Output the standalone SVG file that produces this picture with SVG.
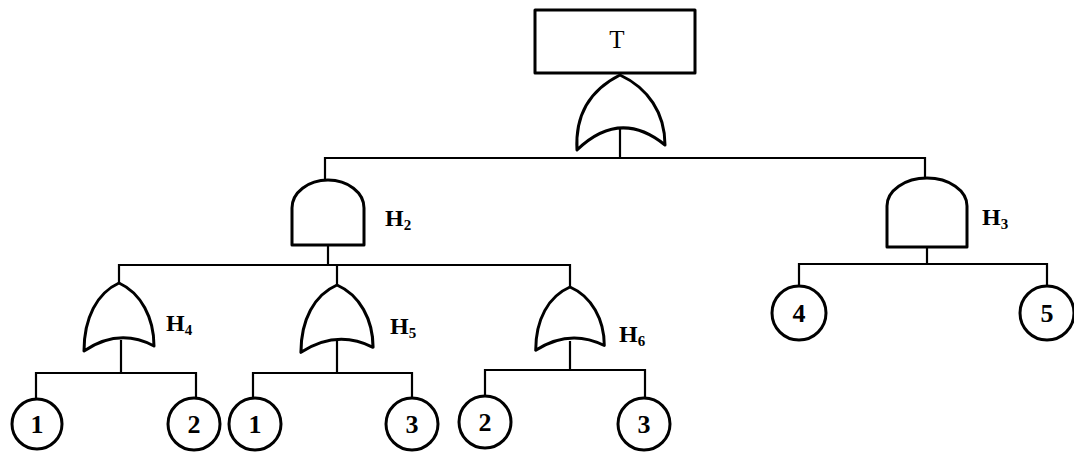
<svg xmlns="http://www.w3.org/2000/svg" xmlns:xlink="http://www.w3.org/1999/xlink" width="1074" height="455" viewBox="0 0 1074 455">
<style>
.gate{fill:#fff;stroke:#000;stroke-width:3;stroke-linejoin:round}
.ev{fill:#fff;stroke:#000;stroke-width:3}
.ln{fill:none;stroke:#000;stroke-width:2.2}
.lbl{font-family:"Liberation Serif","DejaVu Serif",serif;font-size:24px;font-weight:bold;fill:#000}
.sub{font-size:15px}
.num{font-family:"Liberation Serif","DejaVu Serif",serif;font-size:26px;font-weight:bold;fill:#000;text-anchor:middle}
.tt{font-family:"Liberation Serif","DejaVu Serif",serif;font-size:25px;fill:#000;text-anchor:middle}
</style>
<defs>
<path id="or" d="M0,0 C22,10 35,35 35,63 Q0,44.5 -35,68 C-35,35 -22,10 0,0 Z"/>
</defs>
<rect width="1074" height="455" fill="#fff"/>
<g id="connectors">
<path class="ln" d="M620,128 V158"/>
<path class="ln" d="M325,180 V158 H925 V178"/>
<path class="ln" d="M328,245 V265"/>
<path class="ln" d="M119,283 V265 H570 V287"/>
<path class="ln" d="M337,265 V285"/>
<path class="ln" d="M121,340 V373"/>
<path class="ln" d="M36,399 V373 H196 V398"/>
<path class="ln" d="M337,338 V373"/>
<path class="ln" d="M253,398 V373 H412 V398"/>
<path class="ln" d="M570,341 V370"/>
<path class="ln" d="M485,396 V370 H645 V398"/>
<path class="ln" d="M927,247 V264"/>
<path class="ln" d="M799,286 V264 H1047 V286"/>
</g>
<g id="T">
<rect class="gate" x="535" y="10" width="160" height="63"/>
<text class="tt" x="617" y="48">T</text>
</g>
<g id="G1">
<path class="gate" d="M620,75 C648,88 665,113 665,145 Q620,108.5 577,150 C575,115 590,90 620,75 Z"/>
</g>
<g id="H2">
<path class="gate" d="M292,245 V208 A36,28 0 0 1 364,208 V245 Z"/>
<text class="lbl" x="385" y="226">H<tspan class="sub" dy="4">2</tspan></text>
</g>
<g id="H3">
<path class="gate" d="M887,247 V206 A40,28 0 0 1 967,206 V247 Z"/>
<text class="lbl" x="982" y="225">H<tspan class="sub" dy="4">3</tspan></text>
</g>
<g id="H4">
<use xlink:href="#or" href="#or" class="gate" transform="translate(119,283)"/>
<text class="lbl" x="166" y="331">H<tspan class="sub" dy="4">4</tspan></text>
</g>
<g id="H5">
<use xlink:href="#or" href="#or" class="gate" transform="translate(337,285) scale(1.03,0.99)"/>
<text class="lbl" x="390" y="334">H<tspan class="sub" dy="4">5</tspan></text>
</g>
<g id="H6">
<use xlink:href="#or" href="#or" class="gate" transform="translate(570,287) scale(0.98,0.93)"/>
<text class="lbl" x="619" y="342">H<tspan class="sub" dy="4">6</tspan></text>
</g>
<g id="E1a"><circle class="ev" cx="37" cy="424" r="25"/><text class="num" x="37" y="433">1</text></g>
<g id="E2a"><circle class="ev" cx="194" cy="424" r="26"/><text class="num" x="194" y="433">2</text></g>
<g id="E1b"><circle class="ev" cx="255" cy="424" r="26"/><text class="num" x="255" y="433">1</text></g>
<g id="E3a"><circle class="ev" cx="412" cy="424" r="26"/><text class="num" x="412" y="433">3</text></g>
<g id="E2b"><circle class="ev" cx="485" cy="422" r="26"/><text class="num" x="485" y="431">2</text></g>
<g id="E3b"><circle class="ev" cx="644" cy="424" r="26"/><text class="num" x="644" y="433">3</text></g>
<g id="E4"><circle class="ev" cx="799" cy="313" r="27"/><text class="num" x="799" y="322">4</text></g>
<g id="E5"><circle class="ev" cx="1047" cy="313" r="27"/><text class="num" x="1047" y="322">5</text></g>
</svg>
